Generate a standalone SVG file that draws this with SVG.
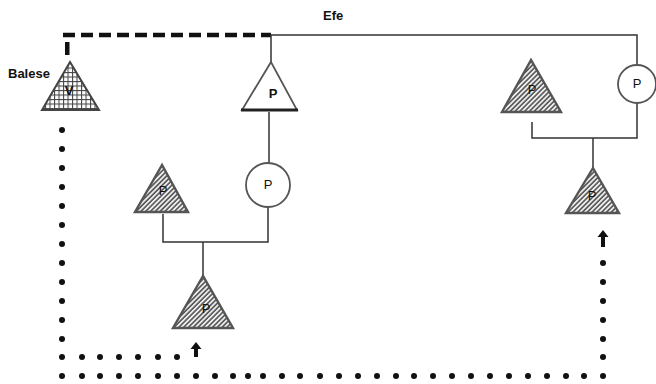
<svg xmlns="http://www.w3.org/2000/svg" width="656" height="384" viewBox="0 0 656 384">
<defs>
<pattern id="hatch" patternUnits="userSpaceOnUse" width="3.4" height="3.4" patternTransform="rotate(45)">
<rect width="3.4" height="3.4" fill="#eee"/>
<line x1="0.9" y1="0" x2="0.9" y2="3.4" stroke="#4a4a4a" stroke-width="1.5"/>
</pattern>
<pattern id="cross" patternUnits="userSpaceOnUse" width="4.5" height="4.5">
<rect width="4.5" height="4.5" fill="#fff"/>
<line x1="0" y1="0.5" x2="4.5" y2="0.5" stroke="#444" stroke-width="1.1"/>
<line x1="0.5" y1="0" x2="0.5" y2="4.5" stroke="#444" stroke-width="1.1"/>
</pattern>
</defs>
<style>
.lbl{font-family:"Liberation Sans",Arial,sans-serif;font-weight:bold;font-size:13px;fill:#111}
.p{font-family:"Liberation Sans",Arial,sans-serif;font-size:13px;fill:#111;text-anchor:middle}
.pb{font-family:"Liberation Sans",Arial,sans-serif;font-weight:bold;font-size:13px;fill:#111;text-anchor:middle}
.tri{fill:url(#hatch);stroke:#555;stroke-width:2.4;stroke-linejoin:miter}
.circ{fill:#fff;stroke:#555;stroke-width:1.8}
.ln{fill:none;stroke:#333;stroke-width:1.5}
.dot{fill:#111}
.arr{fill:#111}
</style>
<rect width="656" height="384" fill="#fff"/>
<g id="labels">
<text class="lbl" x="8" y="78">Balese</text>
<text class="lbl" x="323" y="20">Efe</text>
</g>
<g id="connectors">
<rect x="65" y="42" width="4.5" height="13" fill="#111"/>
<line x1="63" y1="35" x2="271" y2="35" stroke="#111" stroke-width="4.5" stroke-dasharray="12,6"/>
<polyline class="ln" points="271,62 271,35 637,35 637,65" stroke-width="2.2"/>
<line class="ln" x1="269" y1="112" x2="269" y2="163"/>
<polyline class="ln" points="163,214 163,242 268,242 268,207"/>
<line class="ln" x1="203" y1="242" x2="203" y2="276"/>
<polyline class="ln" points="532,122 532,138 637,138 637,103"/>
<line class="ln" x1="593" y1="138" x2="593" y2="168"/>
<g id="dots">
<circle class="dot" cx="62" cy="130" r="3"/>
<circle class="dot" cx="62" cy="149" r="3"/>
<circle class="dot" cx="62" cy="168" r="3"/>
<circle class="dot" cx="62" cy="187" r="3"/>
<circle class="dot" cx="62" cy="206" r="3"/>
<circle class="dot" cx="62" cy="225" r="3"/>
<circle class="dot" cx="62" cy="244" r="3"/>
<circle class="dot" cx="62" cy="263" r="3"/>
<circle class="dot" cx="62" cy="282" r="3"/>
<circle class="dot" cx="62" cy="301" r="3"/>
<circle class="dot" cx="62" cy="320" r="3"/>
<circle class="dot" cx="62" cy="339" r="3"/>
<circle class="dot" cx="62" cy="357" r="3"/>
<circle class="dot" cx="82" cy="357" r="3"/>
<circle class="dot" cx="100" cy="357" r="3"/>
<circle class="dot" cx="119" cy="357" r="3"/>
<circle class="dot" cx="138" cy="357" r="3"/>
<circle class="dot" cx="158" cy="357" r="3"/>
<circle class="dot" cx="177" cy="357" r="3"/>
<circle class="dot" cx="62" cy="376" r="3"/>
<circle class="dot" cx="82" cy="376" r="3"/>
<circle class="dot" cx="100" cy="376" r="3"/>
<circle class="dot" cx="119" cy="376" r="3"/>
<circle class="dot" cx="138" cy="376" r="3"/>
<circle class="dot" cx="158" cy="376" r="3"/>
<circle class="dot" cx="177" cy="376" r="3"/>
<circle class="dot" cx="196" cy="376" r="3"/>
<circle class="dot" cx="215" cy="376" r="3"/>
<circle class="dot" cx="233" cy="376" r="3"/>
<circle class="dot" cx="248" cy="376" r="3"/>
<circle class="dot" cx="263" cy="376" r="3"/>
<circle class="dot" cx="282" cy="376" r="3"/>
<circle class="dot" cx="300" cy="376" r="3"/>
<circle class="dot" cx="320" cy="376" r="3"/>
<circle class="dot" cx="339" cy="376" r="3"/>
<circle class="dot" cx="358" cy="376" r="3"/>
<circle class="dot" cx="377" cy="376" r="3"/>
<circle class="dot" cx="396" cy="376" r="3"/>
<circle class="dot" cx="414" cy="376" r="3"/>
<circle class="dot" cx="433" cy="376" r="3"/>
<circle class="dot" cx="452" cy="376" r="3"/>
<circle class="dot" cx="471" cy="376" r="3"/>
<circle class="dot" cx="490" cy="376" r="3"/>
<circle class="dot" cx="509" cy="376" r="3"/>
<circle class="dot" cx="528" cy="376" r="3"/>
<circle class="dot" cx="547" cy="376" r="3"/>
<circle class="dot" cx="566" cy="376" r="3"/>
<circle class="dot" cx="584" cy="376" r="3"/>
<circle class="dot" cx="603" cy="376" r="3"/>
<circle class="dot" cx="603" cy="357" r="3"/>
<circle class="dot" cx="603" cy="339" r="3"/>
<circle class="dot" cx="603" cy="320" r="3"/>
<circle class="dot" cx="603" cy="301" r="3"/>
<circle class="dot" cx="603" cy="282" r="3"/>
<circle class="dot" cx="603" cy="263" r="3"/>
</g>
<polygon class="arr" points="196,342 201.5,349 198,349 198,357 194,357 194,349 190.5,349"/>
<polygon class="arr" points="603,230 608.5,237 605,237 605,247 601,247 601,237 597.5,237"/>
</g>
<g id="balese">
<polygon points="70,62 42,110 99,110" fill="url(#cross)" stroke="#444" stroke-width="2"/>
<text class="pb" x="69" y="95">V</text>
</g>
<g id="efe">
<polygon points="271,62 242,110 297,110" fill="#fff" stroke="#555" stroke-width="1.8"/>
<line x1="241" y1="110" x2="298" y2="110" stroke="#222" stroke-width="3"/>
<text class="pb" x="273" y="98">P</text>
</g>
<g id="p1">
<polygon class="tri" points="162,165 135,212 188,212"/>
<text class="p" x="163" y="195">P</text>
</g>
<g id="p2">
<circle class="circ" cx="268" cy="185" r="22"/>
<text class="p" x="268" y="189" font-size="10">P</text>
</g>
<g id="p3">
<polygon class="tri" points="203,276 173,328 233,328"/>
<text class="p" x="206" y="313">P</text>
</g>
<g id="p4">
<polygon class="tri" points="531,60 502,112 561,112"/>
<text class="p" x="532" y="94">P</text>
</g>
<g id="p5">
<circle class="circ" cx="637" cy="84" r="19"/>
<text class="p" x="637" y="88" font-size="10">P</text>
</g>
<g id="p6">
<polygon class="tri" points="593,168 566,213 619,213"/>
<text class="p" x="592" y="200">P</text>
</g>
</svg>
